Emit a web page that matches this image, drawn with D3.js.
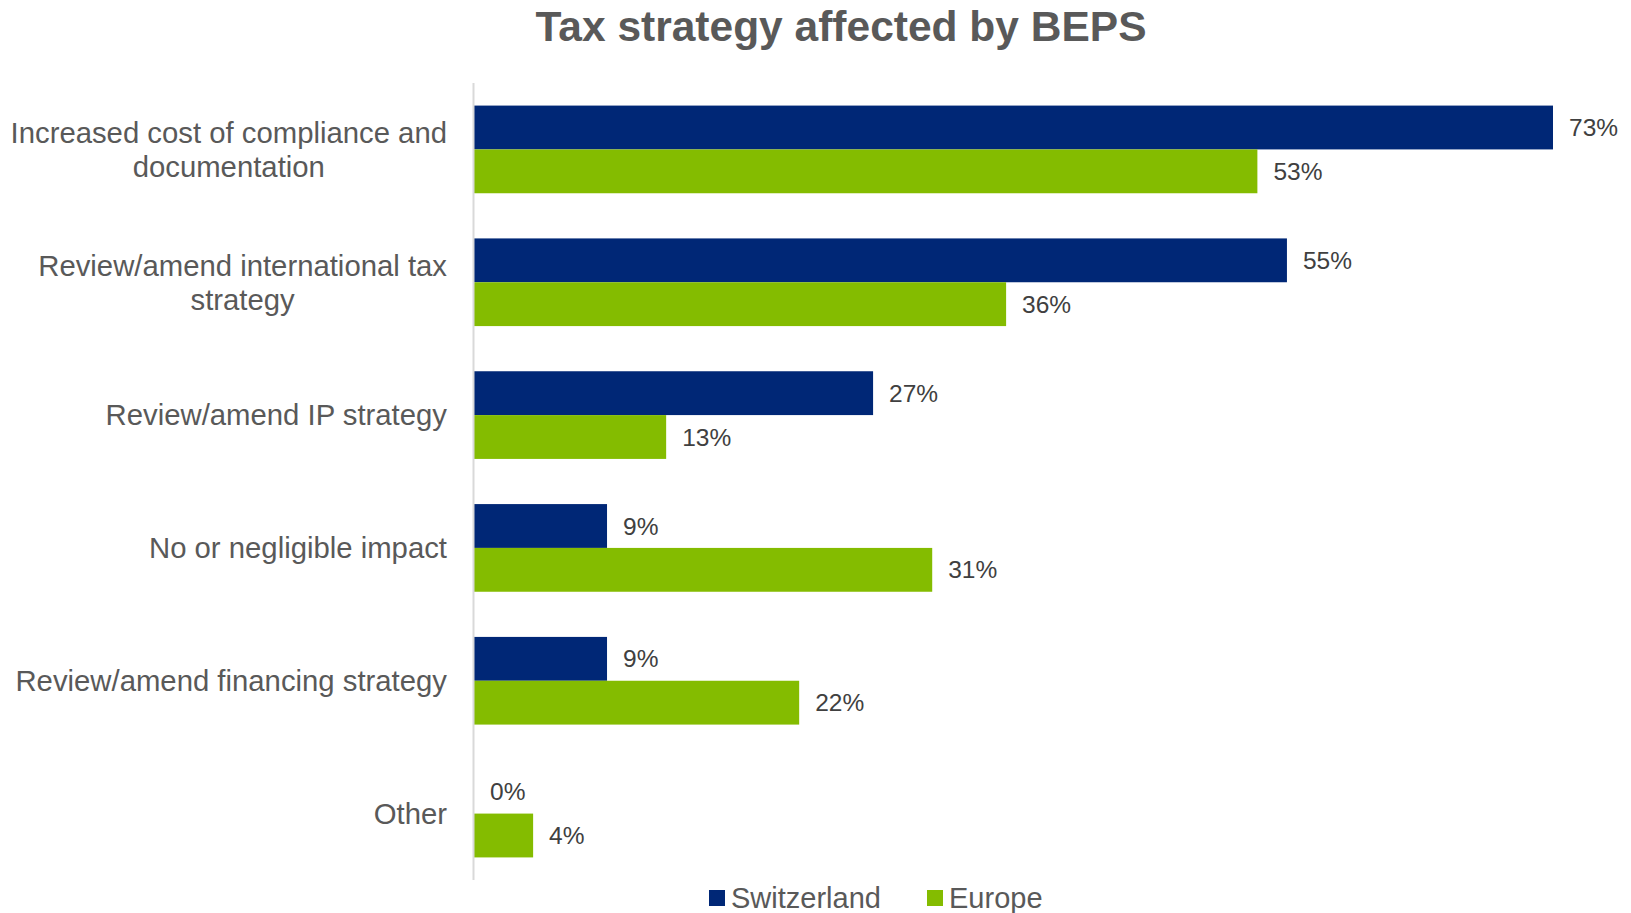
<!DOCTYPE html>
<html>
<head>
<meta charset="utf-8">
<script src="https://cdn.jsdelivr.net/npm/d3@7"></script>
<style>
  html, body { margin: 0; padding: 0; background: #fff; }
  svg { display: block; font-family: "Liberation Sans", Arial, sans-serif; }
</style>
</head>
<body>
<svg id="chart" width="1631" height="913"></svg>
<script>
// Survey answers: share of respondents per impact category
const categories = [
  ["Increased cost of compliance and", "documentation"],
  ["Review/amend international tax", "strategy"],
  ["Review/amend IP strategy"],
  ["No or negligible impact"],
  ["Review/amend financing strategy"],
  ["Other"]
];
const switzerland = [73, 55, 27, 9, 9, 0];
const europe = [53, 36, 13, 31, 22, 4];
const seriesNames = ["Switzerland", "Europe"];
const seriesColors = ["#002776", "#84bc00"];

const svg = d3.select("#chart");
const margin = { left: 474, top: 83, bottom: 33 };
const plotH = 913 - margin.top - margin.bottom;

const x = d3.scaleLinear().domain([0, 73]).range([margin.left, 1553]);
const keys = categories.map((d, i) => i);
const y = d3.scaleBand().domain(keys).range([margin.top, margin.top + plotH]).paddingInner(0.34).paddingOuter(0.17);
const sub = d3.scaleBand().domain([0, 1]).range([0, y.bandwidth()]);

// title
svg.append("text")
  .attr("x", 841).attr("y", 41)
  .attr("text-anchor", "middle")
  .attr("font-size", 42.5).attr("font-weight", "bold")
  .attr("fill", "#595959")
  .text("Tax strategy affected by BEPS");

const rows = [switzerland, europe];

rows.forEach((vals, s) => {
  svg.append("g").selectAll("rect")
    .data(vals)
    .join("rect")
    .attr("x", x(0))
    .attr("y", (d, i) => y(i) + sub(s))
    .attr("width", d => x(d) - x(0))
    .attr("height", sub.bandwidth())
    .attr("fill", seriesColors[s]);

  svg.append("g").selectAll("text")
    .data(vals)
    .join("text")
    .attr("x", d => x(d) + 16)
    .attr("y", (d, i) => y(i) + sub(s) + sub.bandwidth() / 2)
    .attr("dy", "0.35em")
    .attr("font-size", 24.5)
    .attr("fill", "#404040")
    .text(d => d + "%");
});

// category axis line
svg.append("line")
  .attr("x1", margin.left - 0.5).attr("x2", margin.left - 0.5)
  .attr("y1", margin.top).attr("y2", margin.top + plotH)
  .attr("stroke", "#d9d9d9").attr("stroke-width", 2);

// category labels
const lab = svg.append("g").selectAll("text")
  .data(categories)
  .join("text")
  .attr("font-size", 29.3)
  .attr("fill", "#595959");
lab.each(function (lines, i) {
  const t = d3.select(this);
  const cy = y(i) + y.bandwidth() / 2;
  const lh = 34;
  const w = lines.length;
  lines.forEach((ln, k) => {
    t.append("tspan")
      .attr("x", 447)
      .attr("text-anchor", "end")
      .attr("y", cy + (k - (w - 1) / 2) * lh)
      .attr("dy", "0.35em")
      .text(ln);
  });
});
// centre the wrapped labels within their own block
lab.filter(d => d.length > 1).each(function () {
  const t = d3.select(this);
  const spans = t.selectAll("tspan").nodes();
  const widths = spans.map(n => n.getComputedTextLength());
  const maxW = d3.max(widths);
  spans.forEach((n, k) => {
    d3.select(n).attr("x", 447 - (maxW - widths[k]) / 2);
  });
});

// legend
const legend = svg.append("g").attr("transform", "translate(709,898)");
const lx = [0, 218];
seriesNames.forEach((name, i) => {
  legend.append("rect")
    .attr("x", lx[i]).attr("y", -8)
    .attr("width", 16).attr("height", 16)
    .attr("fill", seriesColors[i]);
  legend.append("text")
    .attr("x", lx[i] + 22).attr("y", 0)
    .attr("dy", "0.35em")
    .attr("font-size", 29)
    .attr("fill", "#595959")
    .text(name);
});
</script>
</body>
</html>
